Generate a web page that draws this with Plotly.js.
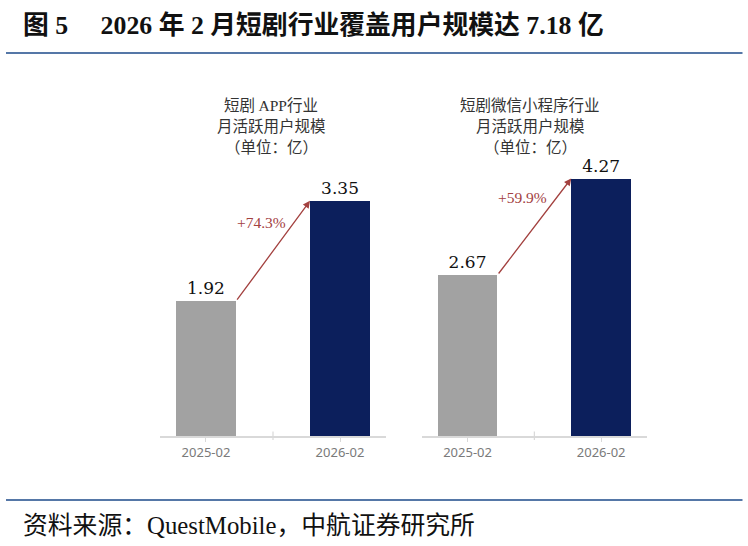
<!DOCTYPE html>
<html>
<head>
<meta charset="utf-8">
<script src="https://cdn.plot.ly/plotly-3.0.1.min.js"></script>
<style>html,body{margin:0;padding:0;background:#fff;}#chart{width:748px;height:546px;}</style>
</head>
<body>
<div id="chart"></div>
<script>
// ---- data ----
const categories = ['2025-02', '2026-02'];
const appValues = [1.92, 3.35];
const miniValues = [2.67, 4.27];
const growthLabels = ['+74.3%', '+59.9%'];
const panelTitleLines = [
  ['短剧 <span style="font-family:\'Liberation Serif\'">APP</span>行业', '月活跃用户规模', '（单位：亿）'],
  ['短剧微信小程序行业', '月活跃用户规模', '（单位：亿）']
];
const L = s => '<span style="font-family:\'Liberation Serif\'">' + s + '</span>';
const chartTitle = '图' + L(' 5\u3000 2026 ') + '年' + L(' 2 ') + '月短剧行业覆盖用户规模达' + L(' 7.18 ') + '亿';
const sourceText = '资料来源：' + L('QuestMobile') + '，中航证券研究所';

// ---- style ----
const W = 748, H = 546;
const BAR_W = 0.448;
const barColors = ['#a2a2a2', '#0c1f5c'];
const arrowColor = '#a3413f';
const lineBlue = '#1d4a8a';
const axisGray = '#d9d9d9';
const py = v => 1 - v / H;   // pixel-y to paper
const px = v => v / W;       // pixel-x to paper

const baseY = py(436), topY = py(100);
const xRange = [-0.343, 1.343];

function barTrace(vals, xa, ya) {
  return {
    type: 'bar', x: categories, y: vals, xaxis: xa, yaxis: ya,
    width: BAR_W,
    marker: {color: barColors, line: {width: 0}},
    texttemplate: '%{y:.2f}', textposition: 'outside', cliponaxis: false,
    textfont: {family: 'DejaVu Serif', size: 17, color: '#111'},
    hoverinfo: 'skip', showlegend: false
  };
}

const xCommon = {
  type: 'category', range: xRange, showgrid: false, zeroline: false,
  showline: true, linecolor: axisGray, linewidth: 1.5,
  ticks: 'outside', ticklen: 4, tickwidth: 1, tickcolor: axisGray,
  tickfont: {family: 'Noto Sans', size: 13, color: '#7a7a7a'},
  fixedrange: true
};
const yCommon = {visible: false, showgrid: false, zeroline: false, fixedrange: true, domain: [baseY, topY]};

const panels = [
  {vals: appValues, xa: 'x', ya: 'y', xref: 'x', yref: 'y', center: 271},
  {vals: miniValues, xa: 'x2', ya: 'y2', xref: 'x2', yref: 'y2', center: 530}
];

const annotations = [];
const shapes = [];
panels.forEach((p, i) => {
  // growth arrow from top-right of first bar to top-left of second bar
  annotations.push({
    xref: p.xref, yref: p.yref, x: 1 - BAR_W / 2, y: p.vals[1],
    axref: p.xref, ayref: p.yref, ax: BAR_W / 2, ay: p.vals[0],
    text: '', showarrow: true, arrowhead: 2, arrowsize: 1.1, arrowwidth: 1.3,
    arrowcolor: arrowColor, standoff: 0, startstandoff: 0
  });
  annotations.push({
    xref: p.xref, yref: p.yref, x: 0.5, y: (p.vals[0] + p.vals[1]) / 2,
    xshift: -12, yshift: 29, text: growthLabels[i], showarrow: false,
    font: {family: 'Liberation Serif', size: 15.5, color: arrowColor}
  });
  panelTitleLines[i].forEach((line, k) => {
    annotations.push({
      xref: 'paper', yref: 'paper', x: px(p.center), y: py(104 + 21 * k),
      xanchor: 'center', yanchor: 'middle', text: line, showarrow: false,
      borderpad: 0,
      font: {family: 'Noto Sans CJK SC', size: 15.5, color: '#333'}
    });
  });
  // divider tick between categories
  shapes.push({
    type: 'line', xref: p.xref, yref: 'paper', x0: 0.5, x1: 0.5,
    y0: py(440), y1: py(431.5), line: {color: axisGray, width: 1.2}
  });
});

annotations.push({
  xref: 'paper', yref: 'paper', x: px(21), y: py(23), xanchor: 'left', yanchor: 'middle',
  text: '<b>' + chartTitle + '</b>', showarrow: false,
  font: {family: 'Noto Sans CJK SC', size: 25.8, color: '#111'}
});
annotations.push({
  xref: 'paper', yref: 'paper', x: px(21), y: py(523), xanchor: 'left', yanchor: 'middle',
  text: sourceText, showarrow: false,
  font: {family: 'Noto Sans CJK SC', size: 24.8, color: '#111'}
});
shapes.push({type: 'line', xref: 'paper', yref: 'paper', x0: px(6), x1: px(742.5), y0: py(53), y1: py(53), line: {color: lineBlue, width: 1.6}});
shapes.push({type: 'line', xref: 'paper', yref: 'paper', x0: px(6), x1: px(742.5), y0: py(500), y1: py(500), line: {color: lineBlue, width: 1.6}});

const layout = {
  width: W, height: H, margin: {l: 0, r: 0, t: 0, b: 0},
  paper_bgcolor: '#fff', plot_bgcolor: '#fff',
  showlegend: false, bargap: 0,
  xaxis: Object.assign({}, xCommon, {domain: [px(160), px(386)], anchor: 'y'}),
  xaxis2: Object.assign({}, xCommon, {domain: [px(421.7), px(647)], anchor: 'y2'}),
  yaxis: Object.assign({}, yCommon, {range: [0, 4.786], anchor: 'x'}),
  yaxis2: Object.assign({}, yCommon, {range: [0, 5.572], anchor: 'x2'}),
  annotations: annotations, shapes: shapes
};

Plotly.newPlot('chart', [barTrace(appValues, 'x', 'y'), barTrace(miniValues, 'x2', 'y2')], layout,
  {displayModeBar: false, staticPlot: true});
</script>
</body>
</html>
